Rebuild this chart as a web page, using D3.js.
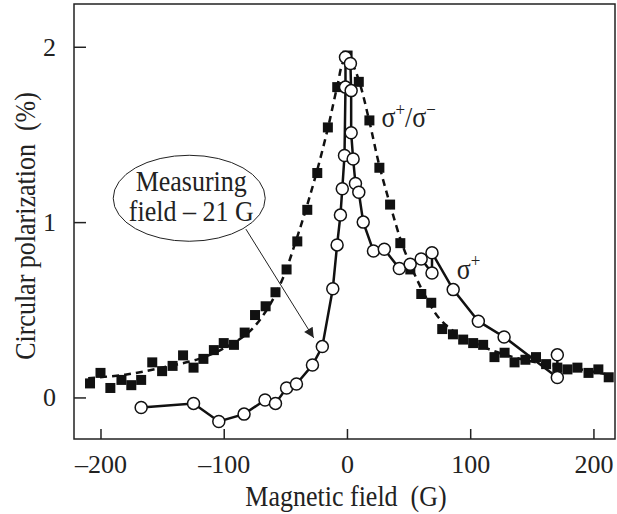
<!DOCTYPE html>
<html>
<head>
<meta charset="utf-8">
<script src="https://cdn.jsdelivr.net/npm/d3@7"></script>
<style>
  body { margin: 0; background: #fff; }
  text { font-family: "Liberation Serif", "DejaVu Serif", serif; fill: #222; white-space: pre; }
</style>
</head>
<body>
<div id="chart"></div>
<script>
// sigma+/sigma- ratio, filled squares
var ratioX = [-208.5, -200, -192, -183, -175, -167, -158, -150, -141.5, -133, -124.5, -116.5, -108, -100, -91.7, -83, -74.6, -66, -58, -49, -40.3, -32.2, -24.1, -15.5, -7.9, 0.5, 9.6, 18.2, 26.3, 35, 43.3, 51.4, 60.3, 68.4, 77.3, 86, 94.3, 102.4, 110.5, 119.7, 127.9, 136, 144.8, 153.4, 161.6, 170.7, 178.9, 187, 196, 204, 212.4];
var ratioY = [0.08, 0.14, 0.054, 0.10, 0.07, 0.10, 0.20, 0.15, 0.18, 0.24, 0.17, 0.22, 0.27, 0.31, 0.30, 0.37, 0.47, 0.52, 0.60, 0.73, 0.89, 1.07, 1.28, 1.54, 1.77, 1.95, 1.80, 1.58, 1.31, 1.10, 0.88, 0.73, 0.59, 0.54, 0.39, 0.36, 0.33, 0.31, 0.30, 0.23, 0.255, 0.20, 0.215, 0.23, 0.19, 0.17, 0.16, 0.17, 0.14, 0.16, 0.115];

// dashed guide curve through the squares
var fitX = [-210, -180, -150, -120, -100, -80, -65, -52, -42, -33, -24, -15, -8, -2, 4, 10, 18, 26, 35, 45, 55, 65, 75, 90, 110, 130, 150, 170, 190, 212];
var fitY = [0.11, 0.13, 0.17, 0.22, 0.28, 0.37, 0.50, 0.68, 0.88, 1.08, 1.30, 1.55, 1.77, 1.92, 1.9, 1.8, 1.58, 1.33, 1.10, 0.87, 0.70, 0.56, 0.45, 0.36, 0.29, 0.24, 0.205, 0.18, 0.16, 0.13];

// sigma+ , open circles (in drawing order)
var plusX = [-167, -124.5, -104, -83.5, -66.5, -58, -49, -41, -28, -20, -11.5, -8, -5.3, -3.8, -2, -1.2, -1.2, 2.8, 3.4, 3.4, 5, 6.9, 9.6, 13.2, 21.5, 30.3, 42.5, 51.3, 60.2, 69, 69, 86.2, 106.6, 127.5, 170.7, 170.7];
var plusY = [-0.057, -0.034, -0.137, -0.095, -0.015, -0.034, 0.054, 0.077, 0.185, 0.29, 0.62, 0.87, 1.04, 1.19, 1.38, 1.77, 1.94, 1.905, 1.75, 1.51, 1.36, 1.22, 1.17, 1.0, 0.835, 0.845, 0.735, 0.76, 0.79, 0.71, 0.825, 0.615, 0.435, 0.345, 0.114, 0.243];

var xTicks = [-200, -100, 0, 100, 200];
var yTicks = [0, 1, 2];

var W = 617, H = 514;
var margin = { top: 4, right: 2, bottom: 75, left: 74 };
var innerW = W - margin.left - margin.right;
var innerH = H - margin.top - margin.bottom;

var svg = d3.select("#chart").append("svg")
  .attr("width", W)
  .attr("height", H);

var g = svg.append("g")
  .attr("transform", `translate(${margin.left},${margin.top})`);

var x = d3.scaleLinear().domain([-221.5, 217.5]).range([0, innerW]);
var y = d3.scaleLinear().domain([-0.237, 2.244]).range([innerH, 0]);

// the original lettering is a bit taller than plain Times, so stretch it
var stretch = 1.15;
function label(parent, px, py, rot, size, anchor) {
  return parent.append("g")
    .attr("transform", `translate(${px},${py}) rotate(${rot}) scale(1,${stretch})`)
    .append("text")
    .attr("text-anchor", anchor)
    .attr("font-size", size + "px");
}

// frame
g.append("rect")
  .attr("x", 0).attr("y", 0)
  .attr("width", innerW).attr("height", innerH)
  .attr("fill", "none")
  .attr("stroke", "#222")
  .attr("stroke-width", 1.5);

// axes, ticks pointing inward
var xAxis = d3.axisBottom(x).tickValues(xTicks).tickSizeInner(-10).tickSizeOuter(0).tickPadding(16)
  .tickFormat(d => d < 0 ? "\u2013" + Math.abs(d) : d);
var yAxis = d3.axisLeft(y).tickValues(yTicks).tickSizeInner(-12).tickSizeOuter(0).tickPadding(18)
  .tickFormat(d => d);

var xg = g.append("g").attr("transform", `translate(0,${innerH})`).call(xAxis);
var yg = g.append("g").call(yAxis);
[xg, yg].forEach(function(a) {
  a.select(".domain").remove();
  a.selectAll("line").attr("stroke", "#222").attr("stroke-width", 1.5);
  a.selectAll("text").attr("font-size", "26px").attr("font-family", "Liberation Serif").attr("fill", "#222");
});

// axis titles
label(svg, 346, 506, 0, 26, "middle").text("Magnetic field  (G)");
label(svg, 35, 226, -90, 26, "middle").text("Circular polarization  (%)");

// data tables
var ratio = ratioX.map((d, i) => ({ x: d, y: ratioY[i] }));
var fit = fitX.map((d, i) => ({ x: d, y: fitY[i] }));
var plus = plusX.map((d, i) => ({ x: d, y: plusY[i] }));

var line = d3.line().x(d => x(d.x)).y(d => y(d.y));

// dashed curve
g.append("path")
  .datum(fit)
  .attr("d", line.curve(d3.curveCatmullRom))
  .attr("fill", "none")
  .attr("stroke", "#111")
  .attr("stroke-width", 2.5)
  .attr("stroke-dasharray", "7,5");

// squares
var sq = 10;
g.selectAll(".sq")
  .data(ratio)
  .enter()
  .append("rect")
  .attr("class", "sq")
  .attr("x", d => x(d.x) - sq / 2)
  .attr("y", d => y(d.y) - sq / 2)
  .attr("width", sq)
  .attr("height", sq)
  .attr("fill", "#111");

// solid sigma+ line
g.append("path")
  .datum(plus)
  .attr("d", d3.line().x(d => x(d.x)).y(d => y(d.y)))
  .attr("fill", "none")
  .attr("stroke", "#111")
  .attr("stroke-width", 2.5);

g.selectAll(".pt")
  .data(plus)
  .enter()
  .append("circle")
  .attr("class", "pt")
  .attr("cx", d => x(d.x))
  .attr("cy", d => y(d.y))
  .attr("r", 6)
  .attr("fill", "#fff")
  .attr("stroke", "#111")
  .attr("stroke-width", 1.5);

// series labels
var lab1 = label(g, x(28), y(1.58) + 7, 0, 26, "start");
lab1.append("tspan").text("\u03c3");
lab1.append("tspan").attr("font-size", "17px").attr("dy", -10).text("+");
lab1.append("tspan").attr("dy", 10).text("/\u03c3");
lab1.append("tspan").attr("font-size", "17px").attr("dy", -10).text("\u2212");

var lab2 = label(g, x(89), y(0.70) + 4, 0, 26, "start");
lab2.append("tspan").text("\u03c3");
lab2.append("tspan").attr("font-size", "17px").attr("dy", -10).text("+");

// annotation
svg.append("defs").append("marker")
  .attr("id", "arrow")
  .attr("viewBox", "0 0 10 10")
  .attr("refX", 10).attr("refY", 5)
  .attr("markerWidth", 14).attr("markerHeight", 10)
  .attr("markerUnits", "userSpaceOnUse")
  .attr("orient", "auto")
  .append("path")
  .attr("d", "M0,0 L10,5 L0,10 z")
  .attr("fill", "#222");

var ex = x(-128), ey = y(1.136);
g.append("ellipse")
  .attr("cx", ex).attr("cy", ey)
  .attr("rx", 76).attr("ry", 43)
  .attr("fill", "#fff")
  .attr("stroke", "#222")
  .attr("stroke-width", 1);

label(g, ex + 2, ey - 7, 0, 26, "middle").text("Measuring");
label(g, ex + 2, ey + 23, 0, 26, "middle").text("field \u2013 21 G");

g.append("line")
  .attr("x1", x(-82)).attr("y1", y(0.96))
  .attr("x2", x(-27)).attr("y2", y(0.34))
  .attr("stroke", "#222")
  .attr("stroke-width", 1)
  .attr("marker-end", "url(#arrow)");
</script>
</body>
</html>
